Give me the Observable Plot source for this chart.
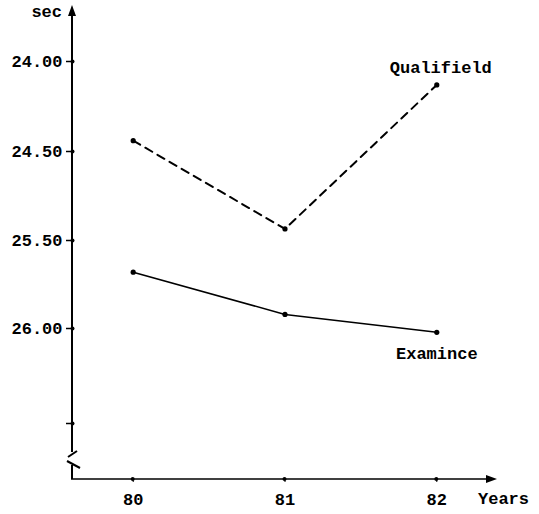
<!DOCTYPE html>
<html>
<head>
<meta charset="utf-8">
<script src="https://cdn.jsdelivr.net/npm/d3@7"></script>
<script src="https://cdn.jsdelivr.net/npm/@observablehq/plot@0.6"></script>
<style>
  html, body { margin: 0; padding: 0; background: #fff; }
</style>
</head>
<body>
<div id="chart"></div>
<script>
// ---- data ----
const years = [80, 81, 82];
const qualifield = [24.44, 25.37, 24.13];
const examinee = [25.68, 25.92, 26.02];
const yTicks = [24, 24.5, 25.5, 26, 26.5];
const yTickLabels = ["24.00", "24.50", "25.50", "26.00", ""];
const xTicks = [80, 81, 82];
const xTickLabels = ["80", "81", "82"];
const seriesNames = ["Qualifield", "Examince"];
const yAxisTitle = "sec";
const xAxisTitle = "Years";

const rows = (vals, name) => years.map((yr, i) => ({year: yr, value: vals[i], series: name}));
const qRows = rows(qualifield, seriesNames[0]);
const eRows = rows(examinee, seriesNames[1]);

const FONT = "'Liberation Mono', 'DejaVu Sans Mono', monospace";

function decor(index, scales, values, dims) {
  const x0 = dims.marginLeft;
  const yb = dims.height - dims.marginBottom;
  const yt = dims.marginTop;
  const xr = dims.width - dims.marginRight;
  const g = d3.create("svg:g");
  const c = yb - 19; // break center
  // y axis (top part)
  g.append("line").attr("x1", x0).attr("x2", x0).attr("y1", yt + 4).attr("y2", c - 8)
    .attr("stroke", "black").attr("stroke-width", 2);
  // y axis (bottom part)
  g.append("line").attr("x1", x0).attr("x2", x0).attr("y1", c + 5).attr("y2", yb)
    .attr("stroke", "black").attr("stroke-width", 2);
  // break strokes
  g.append("line").attr("x1", x0 - 4).attr("y1", c - 3).attr("x2", x0 + 5).attr("y2", c - 9)
    .attr("stroke", "black").attr("stroke-width", 2);
  g.append("line").attr("x1", x0 - 5).attr("y1", c + 1).attr("x2", x0 + 8).attr("y2", c + 8)
    .attr("stroke", "black").attr("stroke-width", 2);
  // x axis
  g.append("line").attr("x1", x0 - 1).attr("x2", xr - 6).attr("y1", yb).attr("y2", yb)
    .attr("stroke", "black").attr("stroke-width", 1.6);
  // arrowheads
  g.append("path").attr("d", `M${x0},${yt} L${x0 - 4},${yt + 11} L${x0 + 4},${yt + 11} Z`).attr("fill", "black");
  g.append("path").attr("d", `M${xr},${yb} L${xr - 11},${yb - 4} L${xr - 11},${yb + 4} Z`).attr("fill", "black");
  // axis titles
  g.append("text").attr("x", x0 - 10).attr("y", yt + 8).attr("text-anchor", "end")
    .attr("dominant-baseline", "middle").text(yAxisTitle);
  g.append("text").attr("x", xr - 19).attr("y", yb + 21).attr("text-anchor", "start")
    .attr("dominant-baseline", "middle").text(xAxisTitle);
  // x tick dots
  for (const t of xTicks) {
    g.append("circle").attr("cx", scales.x(t)).attr("cy", yb).attr("r", 2).attr("fill", "black");
  }
  return g.node();
}

const chart = Plot.plot({
  width: 539,
  height: 514,
  marginLeft: 72,
  marginRight: 42,
  marginTop: 5,
  marginBottom: 35,
  style: {fontFamily: FONT, fontSize: "17px", fontWeight: "bold", color: "black", background: "white"},
  x: {type: "linear", domain: [79.6, 82.4]},
  y: {type: "linear", domain: yTicks, range: [61, 151, 240, 328, 423]},
  marks: [
    Plot.axisY({ticks: yTicks, tickFormat: d => yTickLabels[yTicks.indexOf(d)], tickSize: 6, tickPadding: 4, strokeWidth: 1.5, label: null}),
    Plot.dot(yTicks, {x: 79.6, y: d => d, r: 2, fill: "black"}),
    Plot.axisX({ticks: xTicks, tickFormat: d => xTickLabels[xTicks.indexOf(d)], tickSize: 3, tickPadding: 10, label: null}),
    decor,
    Plot.line(qRows, {x: "year", y: "value", stroke: "black", strokeWidth: 2, strokeDasharray: "8,6"}),
    Plot.line(eRows, {x: "year", y: "value", stroke: "black", strokeWidth: 1.6}),
    Plot.dot(qRows.concat(eRows), {x: "year", y: "value", r: 2.6, fill: "black"}),
    Plot.text([qRows[qRows.length - 1]], {x: "year", y: "value", text: "series", dx: 4, dy: -17, fontSize: 17, fontWeight: "bold"}),
    Plot.text([eRows[eRows.length - 1]], {x: "year", y: "value", text: "series", dx: 0, dy: 21, fontSize: 17, fontWeight: "bold"})
  ]
});
document.getElementById("chart").appendChild(chart);
</script>
</body>
</html>
